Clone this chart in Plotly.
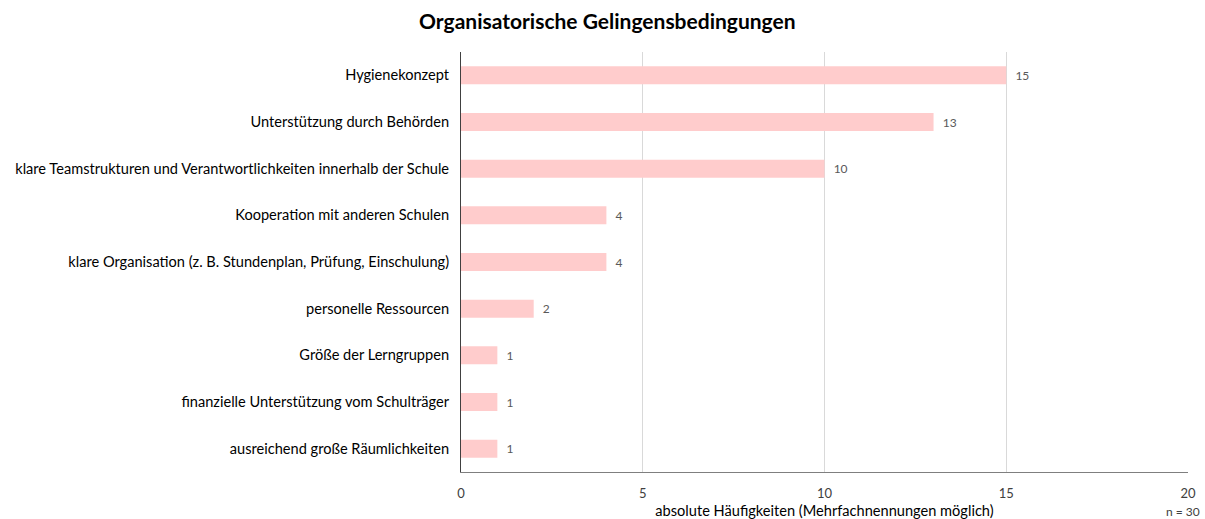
import plotly.graph_objects as go

categories = [
    "Hygienekonzept",
    "Unterstützung durch Behörden",
    "klare Teamstrukturen und Verantwortlichkeiten innerhalb der Schule",
    "Kooperation mit anderen Schulen",
    "klare Organisation (z. B. Stundenplan, Prüfung, Einschulung)",
    "personelle Ressourcen",
    "Größe der Lerngruppen",
    "finanzielle Unterstützung vom Schulträger",
    "ausreichend große Räumlichkeiten",
]
values = [15, 13, 10, 4, 4, 2, 1, 1, 1]
x_ticks = [0, 5, 10, 15, 20]

font = "Lato"

fig = go.Figure(go.Bar(
    y=categories,
    x=values,
    orientation="h",
    marker=dict(color="#FFCCCC", line=dict(width=0)),
    width=0.385,
    text=["  " + str(v) for v in values],
    textposition="outside",
    textfont=dict(family=font, size=12, color="#595959"),
    cliponaxis=False,
    hoverinfo="skip",
))

fig.update_layout(
    width=1205, height=519,
    margin=dict(l=461, r=17, t=52, b=47, autoexpand=False),
    paper_bgcolor="white", plot_bgcolor="white",
    showlegend=False,
    title=dict(text="<b>Organisatorische Gelingensbedingungen</b>",
               x=0.504, xanchor="center", y=1 - 22 / 519, yanchor="middle",
               font=dict(family=font, size=21, color="#000000")),
    font=dict(family=font, color="#000000"),
)
fig.update_xaxes(
    range=[0, 20], tickvals=x_ticks, showgrid=True, gridcolor="#D9D9D9", gridwidth=1,
    zeroline=False, showline=True, linecolor="#7F7F7F", linewidth=1, automargin=False,
    tickfont=dict(family=font, size=13, color="#404040"), ticks="outside", ticklen=9,
    tickcolor="rgba(0,0,0,0)",
    title=dict(text="absolute Häufigkeiten (Mehrfachnennungen möglich)",
               font=dict(family=font, size=14.6, color="#000000"), standoff=6),
)
fig.update_yaxes(
    autorange="reversed", showline=True, linecolor="#404040", linewidth=1, automargin=False,
    tickfont=dict(family=font, size=14.6, color="#000000"), ticks="outside", ticklen=8,
    tickcolor="rgba(0,0,0,0)",
)
fig.add_annotation(text="n = 30", xref="paper", yref="paper", x=(1202 - 461) / 727,
                   y=-(511 - 472) / 420,
                   xanchor="right", yanchor="middle", showarrow=False,
                   font=dict(family=font, size=12, color="#404040"))

fig.write_html("out.html", config={"displayModeBar": False},
               post_script="document.body.style.margin='0';")
